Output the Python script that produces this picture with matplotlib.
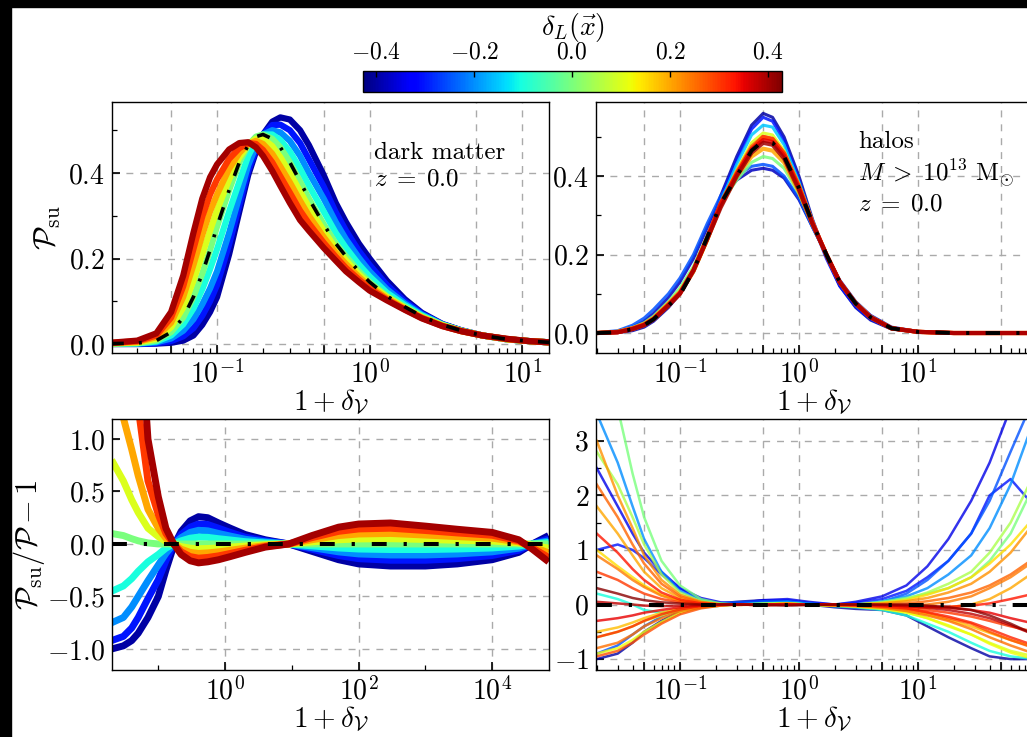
import numpy as np
import matplotlib
matplotlib.use('Agg')
import matplotlib.pyplot as plt
from matplotlib import cm, colors, ticker
from matplotlib.patches import Rectangle

plt.rcParams['font.family'] = 'serif'
plt.rcParams['font.serif'] = ['cmr10']
plt.rcParams['mathtext.fontset'] = 'cm'
plt.rcParams['axes.formatter.use_mathtext'] = True

# ---- dark matter: P_su(1+delta_V) for several delta_L
x_dm = [0.02, 0.03, 0.04, 0.05, 0.06, 0.07, 0.08, 0.09, 0.1, 0.12, 0.14, 0.16, 0.18, 0.2, 0.23,
        0.26, 0.3, 0.35, 0.4, 0.5, 0.6, 0.7, 0.85, 1.0, 1.3, 1.7, 2.2, 3, 4, 5.5, 8, 11, 15]
dL_dm = [-0.4, -0.3, -0.2, -0.1, 0.0, 0.1, 0.2, 0.3, 0.4]
p_dm = [
    [0.0, 0.0, 0.001, 0.003, 0.008, 0.02, 0.045, 0.075, 0.11, 0.21, 0.31, 0.395, 0.45, 0.49, 0.52, 0.53, 0.525,
     0.5, 0.465, 0.395, 0.33, 0.285, 0.235, 0.2, 0.148, 0.105, 0.073, 0.047, 0.032, 0.02, 0.011, 0.007, 0.004],
    [0.0002, 0.0005, 0.002, 0.007, 0.018, 0.037, 0.066, 0.1, 0.138, 0.233, 0.325, 0.405, 0.455, 0.49, 0.512, 0.513, 0.5,
     0.47, 0.432, 0.368, 0.308, 0.265, 0.218, 0.185, 0.138, 0.1, 0.071, 0.046, 0.032, 0.02, 0.011, 0.007, 0.004],
    [0.0004, 0.001, 0.004, 0.013, 0.031, 0.058, 0.093, 0.13, 0.17, 0.26, 0.345, 0.418, 0.463, 0.49, 0.5, 0.495, 0.475,
     0.44, 0.4, 0.34, 0.285, 0.245, 0.202, 0.17, 0.128, 0.095, 0.069, 0.046, 0.031, 0.02, 0.011, 0.007, 0.004],
    [0.0007, 0.0015, 0.006, 0.02, 0.046, 0.083, 0.128, 0.175, 0.222, 0.31, 0.38, 0.44, 0.475, 0.49, 0.49, 0.477, 0.45,
     0.41, 0.37, 0.31, 0.26, 0.225, 0.186, 0.158, 0.12, 0.091, 0.067, 0.045, 0.031, 0.02, 0.011, 0.007, 0.004],
    [0.001, 0.002, 0.008, 0.028, 0.062, 0.11, 0.165, 0.22, 0.275, 0.36, 0.425, 0.465, 0.485, 0.49, 0.48, 0.46, 0.425,
     0.38, 0.34, 0.28, 0.235, 0.205, 0.17, 0.145, 0.112, 0.087, 0.065, 0.045, 0.031, 0.02, 0.011, 0.007, 0.004],
    [0.0015, 0.0035, 0.012, 0.039, 0.085, 0.148, 0.21, 0.265, 0.313, 0.385, 0.436, 0.467, 0.48, 0.48, 0.463, 0.437, 0.4,
     0.357, 0.32, 0.265, 0.224, 0.196, 0.163, 0.14, 0.11, 0.085, 0.063, 0.044, 0.031, 0.02, 0.011, 0.007, 0.004],
    [0.002, 0.005, 0.016, 0.05, 0.11, 0.185, 0.255, 0.31, 0.35, 0.41, 0.447, 0.468, 0.475, 0.468, 0.445, 0.415, 0.378,
     0.335, 0.3, 0.25, 0.213, 0.187, 0.157, 0.135, 0.107, 0.083, 0.062, 0.043, 0.03, 0.02, 0.011, 0.007, 0.004],
    [0.0025, 0.0065, 0.02, 0.062, 0.135, 0.222, 0.298, 0.35, 0.385, 0.433, 0.458, 0.47, 0.468, 0.454, 0.425, 0.392, 0.354,
     0.312, 0.282, 0.237, 0.204, 0.178, 0.151, 0.13, 0.104, 0.081, 0.061, 0.042, 0.03, 0.02, 0.012, 0.007, 0.004],
    [0.003, 0.008, 0.025, 0.075, 0.16, 0.26, 0.34, 0.39, 0.42, 0.455, 0.47, 0.472, 0.46, 0.44, 0.405, 0.37, 0.33,
     0.29, 0.265, 0.225, 0.195, 0.17, 0.145, 0.125, 0.102, 0.08, 0.06, 0.042, 0.03, 0.02, 0.012, 0.007, 0.004],
]
p_dm_mean = [0.001, 0.002, 0.008, 0.028, 0.062, 0.11, 0.165, 0.22, 0.275, 0.36, 0.425, 0.465, 0.485, 0.49, 0.48,
             0.46, 0.425, 0.38, 0.34, 0.28, 0.235, 0.205, 0.17, 0.145, 0.112, 0.087, 0.065, 0.045, 0.031, 0.02,
             0.011, 0.007, 0.004]

# ---- dark matter ratio P_su/P - 1
x_dmr = [0.02, 0.03, 0.04, 0.05, 0.07, 0.1, 0.13, 0.17, 0.22, 0.3, 0.4, 0.55, 0.8, 1.2, 2, 4, 9, 20, 50, 100,
         300, 1000, 3000, 1e4, 2.5e4, 4e4, 7e4]
r_dm = [
    [-1.0, -0.97, -0.92, -0.85, -0.7, -0.5, -0.25, -0.02, 0.12, 0.22, 0.26, 0.25, 0.2, 0.15, 0.09, 0.04, 0.0,
     -0.07, -0.15, -0.19, -0.21, -0.21, -0.19, -0.15, -0.08, 0.0, 0.08],
    [-0.92, -0.88, -0.8, -0.7, -0.52, -0.34, -0.16, 0.0, 0.09, 0.16, 0.19, 0.185, 0.15, 0.11, 0.065, 0.03, 0.0,
     -0.05, -0.11, -0.14, -0.155, -0.155, -0.14, -0.11, -0.06, 0.0, 0.05],
    [-0.75, -0.7, -0.6, -0.5, -0.35, -0.2, -0.09, 0.0, 0.06, 0.11, 0.13, 0.125, 0.1, 0.075, 0.045, 0.02, 0.0,
     -0.035, -0.075, -0.095, -0.105, -0.105, -0.095, -0.075, -0.04, 0.0, 0.03],
    [-0.45, -0.4, -0.33, -0.26, -0.17, -0.1, -0.04, 0.0, 0.03, 0.055, 0.065, 0.063, 0.05, 0.038, 0.022, 0.01, 0.0,
     -0.018, -0.038, -0.048, -0.053, -0.053, -0.048, -0.038, -0.02, 0.0, 0.015],
    [0.1, 0.08, 0.05, 0.03, 0.01, 0.0, 0.0, 0.0, 0.0, 0.0, 0.0, 0.0, 0.0, 0.0, 0.0, 0.0, 0.0,
     0.0, 0.0, 0.0, 0.0, 0.0, 0.0, 0.0, 0.0, 0.0, 0.0],
    [0.8, 0.6, 0.42, 0.3, 0.15, 0.07, 0.025, 0.0, -0.025, -0.04, -0.045, -0.043, -0.038, -0.03, -0.02, -0.008, 0.0,
     0.02, 0.04, 0.048, 0.05, 0.043, 0.035, 0.028, 0.01, -0.012, -0.04],
    [1.6, 1.2, 0.9, 0.65, 0.33, 0.15, 0.055, 0.0, -0.05, -0.08, -0.09, -0.085, -0.075, -0.06, -0.04, -0.015, 0.0,
     0.04, 0.08, 0.095, 0.1, 0.085, 0.07, 0.055, 0.02, -0.025, -0.085],
    [3.5, 2.6, 1.9, 1.3, 0.6, 0.28, 0.1, 0.0, -0.075, -0.12, -0.135, -0.128, -0.113, -0.09, -0.06, -0.023, 0.0,
     0.06, 0.12, 0.143, 0.15, 0.128, 0.105, 0.083, 0.03, -0.038, -0.128],
    [9.0, 5.5, 3.5, 2.4, 1.0, 0.45, 0.15, 0.0, -0.1, -0.16, -0.18, -0.17, -0.15, -0.12, -0.08, -0.03, 0.0,
     0.08, 0.16, 0.19, 0.2, 0.17, 0.14, 0.11, 0.04, -0.05, -0.17],
]

# ---- halos: P_su for several delta_L
x_h = [0.02, 0.03, 0.04, 0.05, 0.06, 0.08, 0.1, 0.13, 0.17, 0.22, 0.3, 0.4, 0.5, 0.6, 0.75, 1.0, 1.3, 1.7,
       2.2, 3, 4, 6, 10, 20, 50, 95]
dL_h = [-0.4, -0.38, -0.3, -0.25, -0.15, 0.0, 0.1, 0.2, 0.25, 0.3, 0.35, 0.4]
p_h = [
    [0, 0.001, 0.006, 0.015, 0.03, 0.065, 0.1, 0.16, 0.245, 0.35, 0.45, 0.53, 0.56, 0.55, 0.5, 0.4, 0.29, 0.195,
     0.12, 0.065, 0.033, 0.01, 0.002, 0, 0, 0],
    [0, 0.004, 0.015, 0.03, 0.05, 0.09, 0.13, 0.19, 0.27, 0.34, 0.39, 0.415, 0.42, 0.415, 0.395, 0.34, 0.27, 0.2,
     0.135, 0.08, 0.045, 0.015, 0.004, 0.001, 0, 0],
    [0, 0.002, 0.008, 0.018, 0.032, 0.068, 0.1, 0.16, 0.25, 0.345, 0.44, 0.52, 0.55, 0.54, 0.49, 0.39, 0.28, 0.19,
     0.12, 0.067, 0.035, 0.011, 0.003, 0, 0, 0],
    [0.001, 0.006, 0.02, 0.038, 0.06, 0.1, 0.14, 0.2, 0.28, 0.35, 0.4, 0.425, 0.43, 0.425, 0.4, 0.345, 0.27, 0.2,
     0.13, 0.075, 0.04, 0.013, 0.003, 0.001, 0, 0],
    [0, 0.002, 0.009, 0.019, 0.034, 0.07, 0.1, 0.155, 0.24, 0.335, 0.43, 0.505, 0.53, 0.525, 0.48, 0.385, 0.285, 0.2,
     0.13, 0.073, 0.038, 0.012, 0.003, 0, 0, 0],
    [0.001, 0.004, 0.014, 0.026, 0.043, 0.08, 0.115, 0.17, 0.25, 0.33, 0.39, 0.435, 0.45, 0.445, 0.42, 0.355, 0.275, 0.2,
     0.13, 0.078, 0.042, 0.013, 0.003, 0, 0, 0],
    [0, 0.002, 0.01, 0.02, 0.035, 0.07, 0.1, 0.155, 0.235, 0.33, 0.415, 0.485, 0.51, 0.505, 0.465, 0.38, 0.285, 0.2,
     0.13, 0.075, 0.04, 0.012, 0.003, 0, 0, 0],
    [0, 0.003, 0.012, 0.023, 0.038, 0.075, 0.105, 0.16, 0.24, 0.325, 0.4, 0.45, 0.47, 0.465, 0.435, 0.36, 0.278, 0.2,
     0.13, 0.076, 0.041, 0.012, 0.003, 0, 0, 0],
    [0, 0.003, 0.012, 0.022, 0.037, 0.073, 0.103, 0.162, 0.245, 0.33, 0.41, 0.475, 0.5, 0.494, 0.458, 0.372, 0.28, 0.2,
     0.13, 0.075, 0.04, 0.012, 0.003, 0, 0, 0],
    [0, 0.002, 0.01, 0.02, 0.035, 0.07, 0.1, 0.158, 0.24, 0.325, 0.405, 0.47, 0.5, 0.495, 0.458, 0.375, 0.282, 0.2,
     0.13, 0.075, 0.04, 0.012, 0.003, 0, 0, 0],
    [0, 0.002, 0.011, 0.021, 0.036, 0.072, 0.102, 0.16, 0.243, 0.33, 0.405, 0.468, 0.492, 0.487, 0.452, 0.37, 0.28, 0.2,
     0.13, 0.075, 0.04, 0.012, 0.003, 0, 0, 0],
    [0, 0.002, 0.01, 0.02, 0.035, 0.07, 0.1, 0.16, 0.24, 0.32, 0.4, 0.46, 0.485, 0.48, 0.445, 0.365, 0.278, 0.2,
     0.13, 0.075, 0.04, 0.012, 0.003, 0, 0, 0],
]
p_h_mean = [0.0, 0.002, 0.01, 0.02, 0.035, 0.07, 0.097, 0.16, 0.245, 0.33, 0.40, 0.465, 0.49, 0.485, 0.45, 0.37,
            0.28, 0.2, 0.13, 0.075, 0.04, 0.012, 0.003, 0.0, 0.0, 0.0]

# ---- halos ratio
x_hr = [0.02, 0.03, 0.04, 0.05, 0.07, 0.1, 0.15, 0.22, 0.3, 0.5, 0.8, 1.2, 2, 3, 5, 8, 12, 18, 28, 40, 60, 95]
dL_hr = [-0.4, -0.35, -0.3, -0.25, -0.2, -0.1, 0.0, 0.05, 0.1, 0.12, 0.15, 0.18, 0.2, 0.22, 0.24, 0.25,
         0.26, 0.28, 0.3, 0.32, 0.33, 0.35, 0.38, 0.42]
r_h = [
    [-1.0, -0.9, -0.7, -0.5, -0.3, -0.12, -0.03, 0.02, 0.05, 0.08, 0.05, 0.0, -0.05, -0.08, -0.1, -0.2, -0.4, -0.6,
     -0.8, -0.95, -1.0, -1.0],
    [2.5, 1.8, 1.3, 0.95, 0.6, 0.3, 0.12, 0.04, 0.02, 0.08, 0.1, 0.05, 0.0, 0.05, 0.15, 0.35, 0.7, 1.2, 1.9, 2.6,
     3.6, 5.0],
    [1.0, 1.1, 1.0, 0.85, 0.55, 0.3, 0.1, 0.02, 0.0, 0.06, 0.08, 0.03, 0.0, 0.03, 0.1, 0.25, 0.5, 0.8, 1.3, 2.0,
     2.3, 1.8],
    [-0.9, -0.75, -0.55, -0.4, -0.22, -0.08, 0.0, 0.03, 0.04, 0.06, 0.06, 0.02, -0.02, -0.02, 0.05, 0.2, 0.45, 0.8,
     1.3, 1.9, 2.8, 3.8],
    [3.5, 2.6, 1.8, 1.2, 0.6, 0.25, 0.08, 0.01, 0.0, 0.03, 0.05, 0.02, -0.02, 0.0, 0.06, 0.15, 0.3, 0.55, 0.9, 1.4,
     2.2, 3.4],
    [0.2, 0.1, 0.0, -0.1, -0.15, -0.12, -0.06, -0.02, 0.0, 0.02, 0.03, 0.0, -0.03, -0.05, -0.1, -0.2, -0.35, -0.5,
     -0.7, -0.85, -0.95, -1.0],
    [5.0, 3.6, 2.4, 1.6, 0.8, 0.35, 0.1, 0.02, 0.0, 0.0, 0.02, 0.0, -0.02, 0.0, 0.05, 0.12, 0.2, 0.3, 0.5, 0.8,
     1.3, 2.2],
    [2.8, 2.2, 1.6, 1.1, 0.55, 0.22, 0.06, 0.01, 0.0, 0.01, 0.02, 0.0, -0.02, -0.01, 0.03, 0.1, 0.22, 0.38, 0.6,
     0.95, 1.5, 2.4],
    [-0.6, -0.5, -0.4, -0.3, -0.2, -0.1, -0.05, -0.02, 0.0, 0.01, 0.02, 0.0, -0.02, -0.04, -0.08, -0.15, -0.25, -0.4,
     -0.55, -0.7, -0.85, -0.95],
    [-0.9, -0.8, -0.65, -0.5, -0.32, -0.15, -0.05, -0.01, 0.0, 0.01, 0.01, 0.0, -0.01, -0.03, -0.07, -0.14, -0.25,
     -0.38, -0.55, -0.72, -0.88, -1.0],
    [1.0, 0.7, 0.5, 0.35, 0.18, 0.07, 0.02, 0.0, 0.0, 0.0, 0.01, 0.0, -0.01, 0.0, 0.03, 0.08, 0.18, 0.3, 0.5, 0.75,
     1.1, 1.6],
    [-0.5, -0.42, -0.33, -0.25, -0.15, -0.07, -0.02, 0.0, 0.0, 0.0, 0.01, 0.0, -0.01, -0.02, -0.05, -0.1, -0.18,
     -0.28, -0.4, -0.52, -0.65, -0.78],
    [1.8, 1.3, 0.9, 0.6, 0.3, 0.12, 0.03, 0.0, -0.01, 0.0, 0.01, 0.0, -0.01, -0.02, -0.03, -0.05, -0.06, -0.05, 0.0,
     0.1, 0.3, 0.6],
    [3.0, 2.0, 1.4, 0.9, 0.45, 0.18, 0.05, 0.0, 0.0, 0.0, 0.01, 0.0, -0.01, 0.0, 0.02, 0.06, 0.12, 0.22, 0.38, 0.6,
     0.95, 1.5],
    [0.9, 0.65, 0.45, 0.32, 0.16, 0.06, 0.015, 0.0, 0.0, -0.01, 0.0, 0.0, -0.01, -0.02, -0.02, -0.02, 0.0, 0.05,
     0.15, 0.3, 0.5, 0.8],
    [-0.8, -0.7, -0.55, -0.4, -0.25, -0.12, -0.05, -0.01, 0.0, 0.0, 0.01, 0.0, -0.01, -0.03, -0.06, -0.12, -0.2, -0.3,
     -0.45, -0.6, -0.75, -0.9],
    [2.2, 1.6, 1.1, 0.75, 0.38, 0.15, 0.04, 0.0, 0.0, 0.0, 0.01, 0.0, -0.01, -0.01, 0.0, 0.02, 0.06, 0.12, 0.22,
     0.35, 0.55, 0.85],
    [-0.95, -0.85, -0.7, -0.55, -0.35, -0.18, -0.07, -0.02, 0.0, 0.0, 0.0, 0.0, -0.01, -0.02, -0.04, -0.08, -0.15,
     -0.25, -0.35, -0.5, -0.65, -0.8],
    [0.6, 0.45, 0.3, 0.2, 0.1, 0.04, 0.01, 0.0, 0.0, -0.01, 0.0, 0.0, 0.0, -0.01, -0.03, -0.06, -0.1, -0.15, -0.22,
     -0.3, -0.4, -0.5],
    [-0.6, -0.5, -0.4, -0.3, -0.18, -0.09, -0.03, -0.01, 0.0, 0.0, 0.0, 0.0, 0.0, -0.01, -0.03, -0.07, -0.14, -0.22,
     -0.33, -0.45, -0.6, -0.75],
    [1.3, 0.95, 0.65, 0.45, 0.22, 0.09, 0.02, 0.0, 0.0, -0.01, 0.0, 0.0, 0.0, -0.01, -0.02, -0.03, -0.04, -0.04,
     -0.02, 0.02, 0.1, 0.2],
    [-0.3, -0.25, -0.2, -0.15, -0.1, -0.05, -0.02, 0.0, 0.0, 0.0, 0.0, 0.0, 0.0, 0.0, -0.01, -0.02, -0.04, -0.06,
     -0.1, -0.15, -0.25, -0.35],
    [0.05, 0.02, 0.0, -0.02, -0.03, -0.02, -0.01, 0.0, 0.0, 0.0, 0.0, 0.0, 0.0, 0.0, -0.01, -0.03, -0.06, -0.1,
     -0.17, -0.25, -0.38, -0.55],
    [0.3, 0.2, 0.12, 0.08, 0.04, 0.02, 0.0, 0.0, 0.0, -0.01, -0.02, -0.01, 0.0, 0.0, 0.0, 0.0, -0.02, -0.05, -0.1,
     -0.2, -0.35, -0.55],
]

cmap = plt.get_cmap('jet')
norm = colors.Normalize(vmin=-0.427, vmax=0.429)
dashdot = (0, (3.7, 4.2, 0.8, 4.2))
FS = 20      # tick labels
FL = 21      # axis labels
FT = 18      # annotations


def logfmt(v, pos):
    k = np.log10(v)
    if abs(k - round(k)) < 1e-6:
        return r'$10^{%d}$' % round(k)
    return ''


def style(ax, majors, minors=None, xlim=None, ylim=None):
    ax.set_xscale('log')
    ax.xaxis.set_major_locator(ticker.FixedLocator(majors))
    if minors is None:
        ax.xaxis.set_minor_locator(ticker.LogLocator(base=10, subs=(2, 3, 4, 6, 7, 8, 9), numticks=50))
    else:
        ax.xaxis.set_minor_locator(ticker.FixedLocator(minors))
    ax.xaxis.set_major_formatter(ticker.FuncFormatter(logfmt))
    ax.xaxis.set_minor_formatter(ticker.NullFormatter())
    ax.set_xlim(*xlim)
    ax.set_ylim(*ylim)
    ax.set_axisbelow(True)
    ax.grid(True, which='major', ls=(0, (5, 5)), color='#aaaaaa', lw=1.0)
    ax.tick_params(which='both', direction='in', top=False, right=False, labelsize=FS)
    ax.tick_params(which='major', length=6, width=1.2, pad=5)
    ax.tick_params(which='minor', length=3.5, width=0.9)
    ax.set_xlabel(r'$1+\delta_{\mathcal{V}}$', fontsize=FL, labelpad=-1)
    for s in ax.spines.values():
        s.set_linewidth(1.0)


def yfmt(d):
    return ticker.FuncFormatter(lambda v, p: ('$%.' + str(d) + 'f$') % v)


fig = plt.figure(figsize=(10.27, 7.37), dpi=100)
fig.patch.set_facecolor('white')

ax_tl = fig.add_axes([0.1091, 0.5210, 0.4255, 0.3406])
ax_tr = fig.add_axes([0.5803, 0.5210, 0.4255, 0.3406])
ax_bl = fig.add_axes([0.1091, 0.0909, 0.4255, 0.3406])
ax_br = fig.add_axes([0.5803, 0.0909, 0.4255, 0.3406])

maj_h = [0.05, 0.1, 0.5, 1, 5, 10, 50]

# top left
for d, y in zip(dL_dm, p_dm):
    ax_tl.plot(x_dm, y, color=cmap(norm(d)), lw=4.5, solid_capstyle='butt')
ax_tl.plot(x_dm, p_dm_mean, color='k', lw=2.6, ls=dashdot)
style(ax_tl, maj_h, xlim=(0.0205, 15.0), ylim=(-0.021, 0.566))
ax_tl.yaxis.set_major_locator(ticker.FixedLocator([0.0, 0.2, 0.4]))
ax_tl.yaxis.set_minor_locator(ticker.FixedLocator([0.1, 0.3, 0.5]))
ax_tl.yaxis.set_major_formatter(yfmt(1))
ax_tl.set_ylabel(r'$\mathcal{P}_{\rm su}$', fontsize=FL + 1, labelpad=4)
ax_tl.text(0.6, 0.84, 'dark matter\n$z\\;=\\;0.0$', transform=ax_tl.transAxes, fontsize=FT,
           va='top', ha='left', linespacing=1.25)

# top right
order = np.argsort(dL_h, kind='stable')
for i in order:
    d = dL_h[i]
    ax_tr.plot(x_h, p_h[i], color=cmap(norm(d)), lw=3.0 if d > 0.15 else 2.2, alpha=0.85)
ax_tr.plot(x_h, p_h_mean, color='k', lw=2.8, ls=dashdot)
style(ax_tr, maj_h, xlim=(0.0197, 92.5), ylim=(-0.051, 0.589))
ax_tr.yaxis.set_major_locator(ticker.FixedLocator([0.0, 0.2, 0.4]))
ax_tr.yaxis.set_minor_locator(ticker.FixedLocator([0.1, 0.3, 0.5]))
ax_tr.yaxis.set_major_formatter(yfmt(1))
ax_tr.text(0.6, 0.885, 'halos\n$M\\;>\\;10^{13}\\ \\mathrm{M}_{\\odot}$\n$z\\;=\\;0.0$',
           transform=ax_tr.transAxes, fontsize=FT, va='top', ha='left', linespacing=1.2)

# bottom left
for d, y in zip(dL_dm, r_dm):
    ax_bl.plot(x_dmr, y, color=cmap(norm(d)), lw=5, solid_capstyle='butt')
ax_bl.plot([x_dmr[0], x_dmr[-1]], [0, 0], color='k', lw=2.9, ls=dashdot)
style(ax_bl, [1, 1e2, 1e4], minors=[0.1, 10, 1e3], xlim=(0.0203, 7.1e4), ylim=(-1.2, 1.19))
ax_bl.yaxis.set_major_locator(ticker.FixedLocator([-1.0, -0.5, 0.0, 0.5, 1.0]))
ax_bl.yaxis.set_minor_locator(ticker.NullLocator())
ax_bl.yaxis.set_major_formatter(yfmt(1))
ax_bl.set_ylabel(r'$\mathcal{P}_{\rm su}/\mathcal{P}-1$', fontsize=FL + 1, labelpad=0)

# bottom right
order = np.argsort(dL_hr, kind='stable')
for i in order:
    ax_br.plot(x_hr, r_h[i], color=cmap(norm(dL_hr[i])), lw=1.8, alpha=0.8)
ax_br.plot([x_hr[0], x_hr[-1]], [0, 0], color='k', lw=2.9, ls=dashdot)
style(ax_br, maj_h, xlim=(0.0197, 92.5), ylim=(-1.2, 3.4))
ax_br.yaxis.set_major_locator(ticker.FixedLocator([-1, 0, 1, 2, 3]))
ax_br.yaxis.set_minor_locator(ticker.FixedLocator([-0.5, 0.5, 1.5, 2.5]))
ax_br.yaxis.set_major_formatter(yfmt(0))

# colorbar
cax = fig.add_axes([0.3535, 0.8756, 0.408, 0.0285])
sm = cm.ScalarMappable(norm=norm, cmap=cmap)
cb = fig.colorbar(sm, cax=cax, orientation='horizontal')
cb.set_ticks([-0.4, -0.2, 0.0, 0.2, 0.4])
cb.set_ticklabels(['$-0.4$', '$-0.2$', '$0.0$', '$0.2$', '$0.4$'])
cax.xaxis.set_ticks_position('top')
cax.xaxis.set_label_position('top')
cax.tick_params(direction='in', length=4, width=1, labelsize=17, pad=5)
cb.set_label(r'$\delta_L(\vec{x})$', fontsize=FL - 1, labelpad=5)
cb.outline.set_linewidth(1.0)

# black frame strips at top and left of the image
fig.add_artist(Rectangle((0, 1 - 7 / 737), 1, 7 / 737, transform=fig.transFigure,
                         color='black', zorder=10))
fig.add_artist(Rectangle((0, 0), 11 / 1027, 1, transform=fig.transFigure, color='black', zorder=10))

fig.savefig('out.png', dpi=100)
